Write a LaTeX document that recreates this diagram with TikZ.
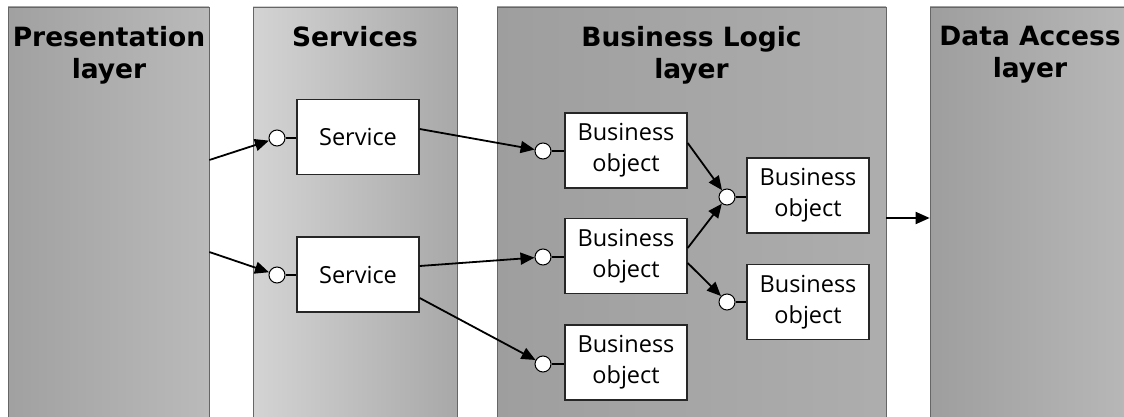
\documentclass[tikz,border=0pt]{standalone}
\usepackage{fontspec}
\setmainfont{Open Sans}
\newfontfamily\titlefont{DejaVu Sans}
\usetikzlibrary{arrows.meta,calc}
\begin{document}
\begin{tikzpicture}[x=1pt,y=-1pt,
  layer/.style={draw=black!60, line width=0.7pt, inner sep=0, minimum height=412pt},
  ltitle/.style={anchor=north, inner sep=0, align=center, font=\titlefont\bfseries\fontsize{26.5}{32}\selectfont},
  box/.style={draw=black!85, line width=1.4pt, fill=white, minimum width=122pt, minimum height=75pt, inner sep=0, align=center, font=\fontsize{23.5}{31}\selectfont},
  port/.style={circle, draw=black, fill=white, line width=1pt, minimum size=16pt, inner sep=0},
  conn/.style={line width=1.8pt, -{Triangle[length=14pt,width=12pt]}},
  stub/.style={line width=1.1pt}]
\useasboundingbox (0,0) rectangle (1124,417);
\fill[white] (0,0) rectangle (1124,417);
% layers
\node[layer, minimum width=201pt, left color=black!37, right color=black!27] (pres) at (108.5,213) {};
\node[layer, minimum width=204pt, left color=black!17, right color=black!34] (svc) at (355,213) {};
\node[layer, minimum width=389pt, left color=black!38, right color=black!32] (bl) at (691.5,213) {};
\node[layer, minimum width=200pt, left color=black!38, right color=black!28] (data) at (1030,213) {};
% titles
\node[ltitle] (tpres) at (109,26) {Presentation\\layer};
\node[ltitle] (tsvc) at (355,26) {Services};
\node[ltitle] (tbl) at (691.5,26) {Business Logic\\layer};
\node[ltitle] (tdata) at (1030,26) {Data Access\\layer};
% boxes
\node[box] (svc1) at (358,137) {Service};
\node[box] (svc2) at (358,274.5) {Service};
\node[box] (bo1) at (626,150.5) {Business\\object};
\node[box] (bo2) at (626,256) {Business\\object};
\node[box] (bo3) at (626,362.5) {Business\\object};
\node[box] (bo4) at (808,195.5) {Business\\object};
\node[box] (bo5) at (808,302) {Business\\object};
% ports
\node[port] (p1) at (277,138) {};
\node[port] (p2) at (277,275) {};
\node[port] (pb1) at (543,151) {};
\node[port] (pb2) at (543,257) {};
\node[port] (pb3) at (543,364) {};
\node[port] (pb4) at (727,197) {};
\node[port] (pb5) at (727,302) {};
% stubs
\draw[stub] (p1) -- (p1 -| svc1.west);
\draw[stub] (p2) -- (p2 -| svc2.west);
\draw[stub] (pb1) -- (pb1 -| bo1.west);
\draw[stub] (pb2) -- (pb2 -| bo2.west);
\draw[stub] (pb3) -- (pb3 -| bo3.west);
\draw[stub] (pb4) -- (pb4 -| bo4.west);
\draw[stub] (pb5) -- (pb5 -| bo5.west);
% connectors
\draw[conn] ([yshift=53pt]pres.east) -- (p1);
\draw[conn] ([yshift=-39pt]pres.east) -- (p2);
\draw[conn] ([yshift=8pt]svc1.east) -- (pb1);
\draw[conn] ([yshift=8.5pt]svc2.east) -- (pb2);
\draw[conn] ([yshift=-23.5pt]svc2.east) -- (pb3);
\draw[conn] ([yshift=7.5pt]bo1.east) -- (pb4);
\draw[conn] ([yshift=8pt]bo2.east) -- (pb4);
\draw[conn] ([yshift=-7pt]bo2.east) -- (pb5);
\draw[conn] ([yshift=-5pt]bl.east) -- ([yshift=-5pt]data.west);
\end{tikzpicture}
\end{document}
